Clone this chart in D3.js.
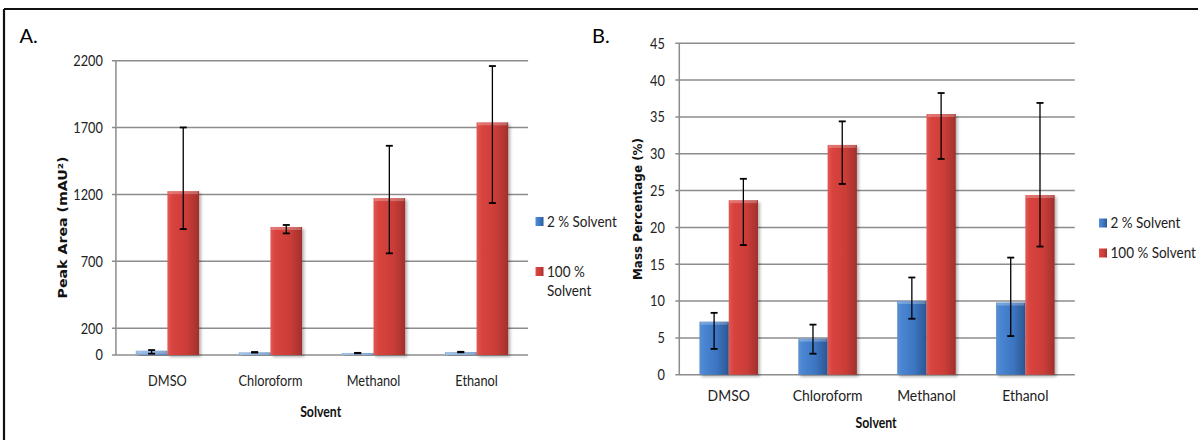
<!DOCTYPE html>
<html><head><meta charset="utf-8">
<script src="https://cdn.jsdelivr.net/npm/d3@7"></script>
<style>
body{margin:0;background:#fff;}
svg{display:block;}
.tick-lbl,.cat-lbl,.leg-lbl{font-family:"Lato","Open Sans",sans-serif;fill:#222;}
.ax-title{font-family:"DejaVu Sans","Verdana",sans-serif;font-weight:bold;fill:#111;}
.x-title{font-family:"Lato","Open Sans",sans-serif;font-weight:bold;fill:#111;}
.panel-lbl{font-family:"Lato","Open Sans",sans-serif;fill:#000;}
</style></head>
<body>
<svg id="chart" width="1198" height="440"></svg>
<script>
// ---------- data ----------
const categories = ["DMSO", "Chloroform", "Methanol", "Ethanol"];
const seriesNames = ["2 % Solvent", "100 % Solvent"];

// Panel A: Peak Area (mAU²)
const peakArea2 = [32, 20, 15, 22];
const peakArea2ErrMinus = [22, 2, 2, 2];
const peakArea2ErrPlus = [5, 2, 1, 2];
const peakArea100 = [1225, 957, 1173, 1739];
const peakArea100ErrMinus = [284, 48, 413, 603];
const peakArea100ErrPlus = [476, 15, 391, 421];
const peakAreaTicks = [0, 200, 700, 1200, 1700, 2200];

// Panel B: Mass Percentage (%)
const massPct2 = [7.2, 4.9, 10.0, 9.8];
const massPct2ErrMinus = [3.7, 2.05, 2.4, 4.55];
const massPct2ErrPlus = [1.2, 1.9, 3.2, 6.1];
const massPct100 = [23.7, 31.2, 35.4, 24.4];
const massPct100ErrMinus = [6.1, 5.3, 6.1, 7.0];
const massPct100ErrPlus = [2.9, 3.2, 2.85, 12.5];
const massPctTicks = [0, 5, 10, 15, 20, 25, 30, 35, 40, 45];

// ---------- drawing ----------
const svg = d3.select("#chart");
const defs = svg.append("defs");

function grad(id, stops){
  const g = defs.append("linearGradient").attr("id", id).attr("x1","0").attr("x2","1").attr("y1","0").attr("y2","0");
  stops.forEach(s => g.append("stop").attr("offset", s[0]).attr("stop-color", s[1]));
}
grad("gBlue", [[0,"#5a8fd0"],[0.15,"#4a86d2"],[0.6,"#3c74c0"],[0.9,"#2f5f9e"],[1,"#2a5590"]]);
grad("gRed", [[0,"#e05a55"],[0.15,"#d9443f"],[0.6,"#cc3d38"],[0.9,"#ad3430"],[1,"#9c2f2b"]]);
grad("gBlueFaint", [[0,"#8ab0dc"],[0.5,"#6e9bd2"],[1,"#5b86bb"]]);

const shadow = defs.append("filter").attr("id","shadow").attr("x","-20%").attr("y","-5%").attr("width","150%").attr("height","115%");
shadow.append("feDropShadow").attr("dx",2).attr("dy",2).attr("stdDeviation",1.5).attr("flood-color","#000").attr("flood-opacity",0.3);

// outer frame (top and left)
svg.append("line").attr("x1",4).attr("x2",1198).attr("y1",9).attr("y2",9).attr("stroke","#111").attr("stroke-width",2.2);
svg.append("line").attr("x1",4).attr("x2",4).attr("y1",9).attr("y2",440).attr("stroke","#111").attr("stroke-width",2.2);

// text placed with a horizontal condensing factor (Calibri-like narrow look)
function txt(parent, cls, x, y, str, size, sx, anchor){
  return parent.append("text").attr("class", cls)
    .attr("transform", `translate(${x},${y}) scale(${sx},1)`)
    .attr("dy", "0.36em").attr("text-anchor", anchor || "start")
    .attr("font-size", size).text(str);
}

function panel(cfg){
  const g = svg.append("g");
  const x = d3.scaleBand().domain(categories).range([cfg.left, cfg.right]).padding(0);
  const y = d3.scaleLinear().domain(cfg.domain).range([cfg.bottom, cfg.top]);
  const inner = d3.scaleBand().domain(seriesNames)
      .range([x.bandwidth()*cfg.groupStart, x.bandwidth()*(1-cfg.groupStart)]).padding(0);

  // gridlines
  g.selectAll(".grid").data(cfg.ticks).join("line")
    .attr("x1", cfg.left - 4).attr("x2", cfg.right)
    .attr("y1", d => y(d)).attr("y2", d => y(d))
    .attr("stroke", "#8c8c8c").attr("stroke-width", 1.5);
  // y axis line
  g.append("line").attr("x1", cfg.left).attr("x2", cfg.left)
    .attr("y1", y(cfg.domain[1])).attr("y2", y(0))
    .attr("stroke","#8c8c8c").attr("stroke-width",1.5);
  // tick labels
  cfg.ticks.forEach(d => txt(g, "tick-lbl", cfg.left - cfg.tickGap, y(d), d, 15, 0.85, "end"));

  const series = [
    {name: seriesNames[0], v: cfg.s1, em: cfg.s1m, ep: cfg.s1p, fill: cfg.faintBlue ? "url(#gBlueFaint)" : "url(#gBlue)"},
    {name: seriesNames[1], v: cfg.s2, em: cfg.s2m, ep: cfg.s2p, fill: "url(#gRed)"}
  ];
  series.forEach(s => {
    const bars = g.append("g");
    categories.forEach((c, i) => {
      const bx = x(c) + inner(s.name), bw = inner.bandwidth();
      const top = y(s.v[i]), h = y(0) - top;
      bars.append("rect").attr("x", bx).attr("y", top).attr("width", bw).attr("height", Math.max(h, 1))
        .attr("fill", s.fill).attr("filter","url(#shadow)");
      // top bevel highlight
      bars.append("rect").attr("x", bx + 1).attr("y", top).attr("width", bw - 2).attr("height", Math.min(3, h))
        .attr("fill", "#fff").attr("opacity", 0.25);
    });
  });
  // error bars
  series.forEach(s => {
    categories.forEach((c, i) => {
      const cx = x(c) + inner(s.name) + inner.bandwidth()/2;
      const yHi = y(s.v[i] + s.ep[i]), yLo = y(s.v[i] - s.em[i]);
      g.append("line").attr("x1", cx).attr("x2", cx).attr("y1", yHi).attr("y2", yLo)
        .attr("stroke","#000").attr("stroke-width",1.3);
      [yHi, yLo].forEach(yy => g.append("line").attr("x1", cx - 3.5).attr("x2", cx + 3.5)
        .attr("y1", yy).attr("y2", yy).attr("stroke","#000").attr("stroke-width",1.8));
    });
  });
  // category labels
  categories.forEach(d => txt(g, "cat-lbl", x(d) + x.bandwidth()/2, cfg.catY, d, cfg.catSize, cfg.catSx, "middle"));
  // x title
  txt(g, "x-title", cfg.xTitleX, cfg.xTitleY, "Solvent", 15, 0.82, "middle");
  // y title
  g.append("text").attr("class","ax-title")
    .attr("transform", `translate(${cfg.yTitleX},${cfg.yTitleY}) rotate(-90)`)
    .attr("text-anchor","middle").attr("dy","0.36em").attr("font-size", 12)
    .attr("textLength", cfg.yTitleLen).attr("lengthAdjust","spacingAndGlyphs")
    .text(cfg.yTitle);
  // panel label
  g.append("text").attr("class","panel-lbl").attr("x", cfg.panelX).attr("y", cfg.panelY)
    .attr("font-size", 20).text(cfg.panel);
  // legend
  cfg.legend.forEach((L, k) => {
    g.append("rect").attr("x", L.x).attr("y", L.y - 4.5).attr("width", 8).attr("height", 9)
      .attr("fill", k === 0 ? "url(#gBlue)" : "url(#gRed)");
    L.lines.forEach((t, j) => txt(g, "leg-lbl", L.x + 11.5, L.y + j*19, t, 15, 0.9, "start"));
  });
}

panel({
  panel: "A.", panelX: 19.5, panelY: 43,
  left: 115.9, right: 528.1, top: 60.7, bottom: 355, domain: [0, 2200], ticks: peakAreaTicks,
  groupStart: 0.193, tickGap: 13, catSize: 14.5, catSx: 0.88, catY: 381,
  s1: peakArea2, s1m: peakArea2ErrMinus, s1p: peakArea2ErrPlus, faintBlue: true,
  s2: peakArea100, s2m: peakArea100ErrMinus, s2p: peakArea100ErrPlus,
  xTitleX: 320.7, xTitleY: 411.5, yTitleX: 62.4, yTitleY: 227.5, yTitleLen: 142,
  yTitle: "Peak Area (mAU²)",
  legend: [{x: 535.5, y: 221.5}, {x: 535.5, y: 271.5}].map((p, k) => ({...p, lines: k === 0 ? ["2 % Solvent"] : ["100 %", "Solvent"]}))
});
panel({
  panel: "B.", panelX: 592, panelY: 43,
  left: 679.3, right: 1074.8, top: 43.3, bottom: 374.7, domain: [0, 45], ticks: massPctTicks,
  groupStart: 0.204, tickGap: 14.5, catSize: 15, catSx: 0.93, catY: 396,
  s1: massPct2, s1m: massPct2ErrMinus, s1p: massPct2ErrPlus, faintBlue: false,
  s2: massPct100, s2m: massPct100ErrMinus, s2p: massPct100ErrPlus,
  xTitleX: 876.1, xTitleY: 422.5, yTitleX: 637.4, yTitleY: 209, yTitleLen: 142,
  yTitle: "Mass Percentage (%)",
  legend: [{x: 1099, y: 223}, {x: 1099, y: 253}].map((p, k) => ({...p, lines: k === 0 ? ["2 % Solvent"] : ["100 % Solvent"]}))
});
</script>
</body></html>
